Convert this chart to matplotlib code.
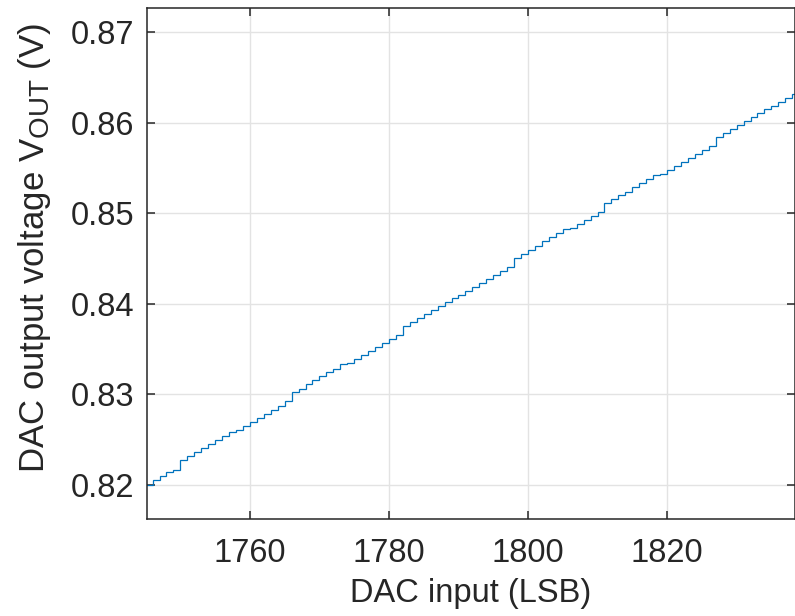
"""DAC transfer staircase around mid-scale: output voltage vs. input code."""
import numpy as np
import matplotlib
matplotlib.use("Agg")
import matplotlib.pyplot as plt
import matplotlib._mathtext as mathtext_internal

# input codes (LSB) and measured output voltage for each code (V)
CODES = list(range(1745, 1839))
VOUT = [
    0.82000, 0.82048, 0.82092, 0.82140, 0.82166, 0.82269, 0.82313, 0.82361,
    0.82401, 0.82449, 0.82493, 0.82537, 0.82578, 0.82607, 0.82651, 0.82695,
    0.82736, 0.82780, 0.82828, 0.82872, 0.82920, 0.83019, 0.83060, 0.83111,
    0.83152, 0.83196, 0.83244, 0.83284, 0.83332, 0.83347, 0.83391, 0.83435,
    0.83479, 0.83520, 0.83564, 0.83608, 0.83656, 0.83755, 0.83803, 0.83847,
    0.83891, 0.83935, 0.83979, 0.84024, 0.84068, 0.84097, 0.84141, 0.84185,
    0.84230, 0.84274, 0.84318, 0.84362, 0.84406, 0.84509, 0.84553, 0.84597,
    0.84642, 0.84689, 0.84734, 0.84778, 0.84822, 0.84833, 0.84877, 0.84921,
    0.84965, 0.85010, 0.85109, 0.85153, 0.85197, 0.85241, 0.85286, 0.85330,
    0.85374, 0.85422, 0.85436, 0.85480, 0.85525, 0.85569, 0.85617, 0.85653,
    0.85701, 0.85745, 0.85845, 0.85889, 0.85937, 0.85981, 0.86025, 0.86069,
    0.86113, 0.86157, 0.86191, 0.86235, 0.86279, 0.86323,
]
X_TICKS = [1760, 1780, 1800, 1820]
Y_TICKS = [0.82, 0.83, 0.84, 0.85, 0.86, 0.87]

plt.rcParams["font.family"] = ["Liberation Sans", "DejaVu Sans"]
plt.rcParams["mathtext.default"] = "regular"
# MATLAB-style subscripts are a bit bigger than mathtext's default
mathtext_internal.SHRINK_FACTOR = 0.8

W, H = 795, 616
FS = 23.5
fig = plt.figure(figsize=(W / 100, H / 100), dpi=100)
ax = fig.add_axes([147 / W, (H - 519) / H, (795 - 147) / W, (519 - 8) / H])

edges = np.append(CODES, CODES[-1] + 1)
ax.stairs(VOUT, edges, baseline=None, color="#0072BD", linewidth=0.9)

ax.set_xlim(1745.2, 1838.4)
ax.set_ylim(0.8162, 0.8727)
ax.set_xticks(X_TICKS)
ax.set_yticks(Y_TICKS)
ax.set_yticklabels([f"{v:.2f}" for v in Y_TICKS])

ax.grid(True, color="#e3e3e3", linewidth=1.0)
ax.set_axisbelow(True)
for s in ax.spines.values():
    s.set_color("#262626")
    s.set_linewidth(1.1)
ax.tick_params(direction="in", length=6, width=1.1, colors="#262626",
               labelsize=FS, top=True, right=True)
ax.tick_params(axis="x", pad=14)
ax.tick_params(axis="y", pad=9)

ax.set_xlabel("DAC input (LSB)", fontsize=FS, color="#262626", labelpad=6)
ax.set_ylabel("DAC output voltage V$_{OUT}$ (V)", fontsize=25,
              color="#262626", labelpad=13)
ax.yaxis.label.set_y(0.53)

fig.savefig("out.png", dpi=100)
